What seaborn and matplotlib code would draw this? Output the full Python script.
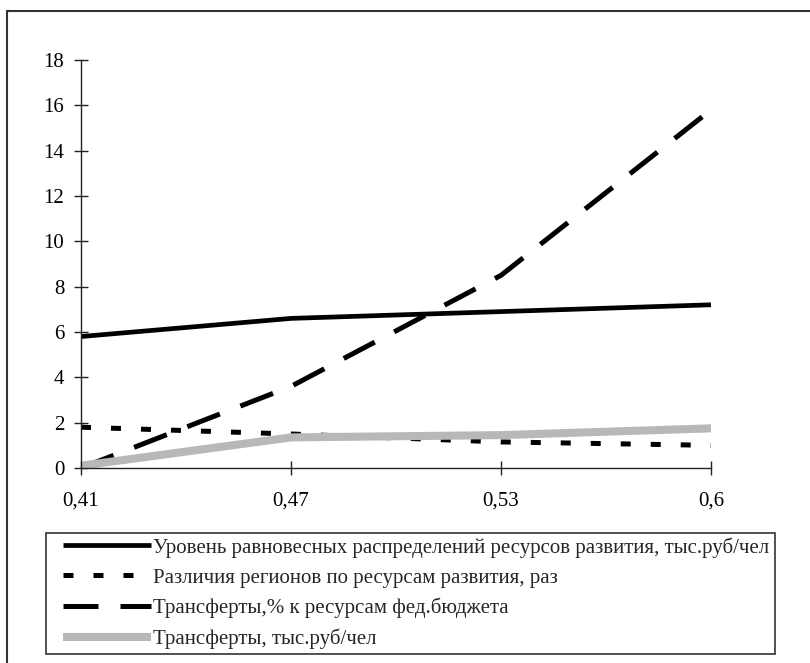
import matplotlib
matplotlib.use("Agg")
import matplotlib.pyplot as plt
import seaborn as sns
from matplotlib.patches import Rectangle

x_labels = ['0,41', '0,47', '0,53', '0,6']
uroven = [5.8, 6.6, 6.9, 7.2]
razlichiya = [1.8, 1.5, 1.15, 1.0]
transf_pct = [0.0, 3.6, 8.5, 15.8]
transf_rub = [0.1, 1.35, 1.45, 1.75]

names = [
    'Уровень равновесных распределений ресурсов развития, тыс.руб/чел',
    'Различия регионов по ресурсам развития, раз',
    'Трансферты,% к ресурсам фед.бюджета',
    'Трансферты, тыс.руб/чел',
]

sns.set_style('white')
plt.rcParams['font.family'] = ['Liberation Serif', 'DejaVu Serif']

fig = plt.figure(figsize=(8.1, 6.63), dpi=100)
ax = fig.add_axes([81 / 810, 1 - 468 / 663, 630 / 810, 408 / 663])

sns.lineplot(x=x_labels, y=uroven, ax=ax, color='black', lw=3.4, label=names[0], sort=False)
sns.lineplot(x=x_labels, y=razlichiya, ax=ax, color='black', lw=3.6, label=names[1], sort=False)
ax.lines[-1].set_dashes((2.0, 4.0))
sns.lineplot(x=x_labels, y=transf_pct, ax=ax, color='black', lw=3.6, label=names[2], sort=False)
ax.lines[-1].set_dashes((7.0, 4.4))
sns.lineplot(x=x_labels, y=transf_rub, ax=ax, color='#b8b8b8', lw=5.8, label=names[3], sort=False)
for ln in ax.lines:
    ln.set_solid_capstyle('butt')
    ln.set_dash_capstyle('butt')

ax.set_xlim(0, 3)
ax.set_ylim(0, 18)
ax.set_yticks(range(0, 19, 2))
ax.set_xlabel('')
ax.set_ylabel('')
for s in ['top', 'right']:
    ax.spines[s].set_visible(False)
for s in ['left', 'bottom']:
    ax.spines[s].set_color('#222222')
    ax.spines[s].set_linewidth(1.0)
ax.tick_params(axis='both', direction='inout', length=10, width=1.0, color='#222222',
               labelsize=15, labelcolor='black')
ax.tick_params(axis='x', pad=12)
ax.tick_params(axis='y', pad=7)
ax.tick_params(axis='both', which='both', left=True, bottom=True)

handles, labels = ax.get_legend_handles_labels()
ax.get_legend().remove()
leg = fig.legend(handles, labels, loc='upper left',
                 bbox_to_anchor=(61 / 810, 1 - 535 / 663),
                 ncol=1, fontsize=15, frameon=False,
                 handlelength=4.2, handletextpad=0.1,
                 labelspacing=0.5, borderaxespad=0, borderpad=0.1)

# рамка легенды и внешняя рамка диаграммы
fig.add_artist(Rectangle((46 / 810, 1 - 654 / 663), 729 / 810, 121 / 663,
                         transform=fig.transFigure, fill=False,
                         edgecolor='#333333', lw=1.2))
fig.add_artist(Rectangle((7 / 810, -0.2), 1.2, 1.2 - 11 / 663, transform=fig.transFigure,
                         fill=False, edgecolor='#333333', lw=1.5))

fig.savefig('out.png', dpi=100)
